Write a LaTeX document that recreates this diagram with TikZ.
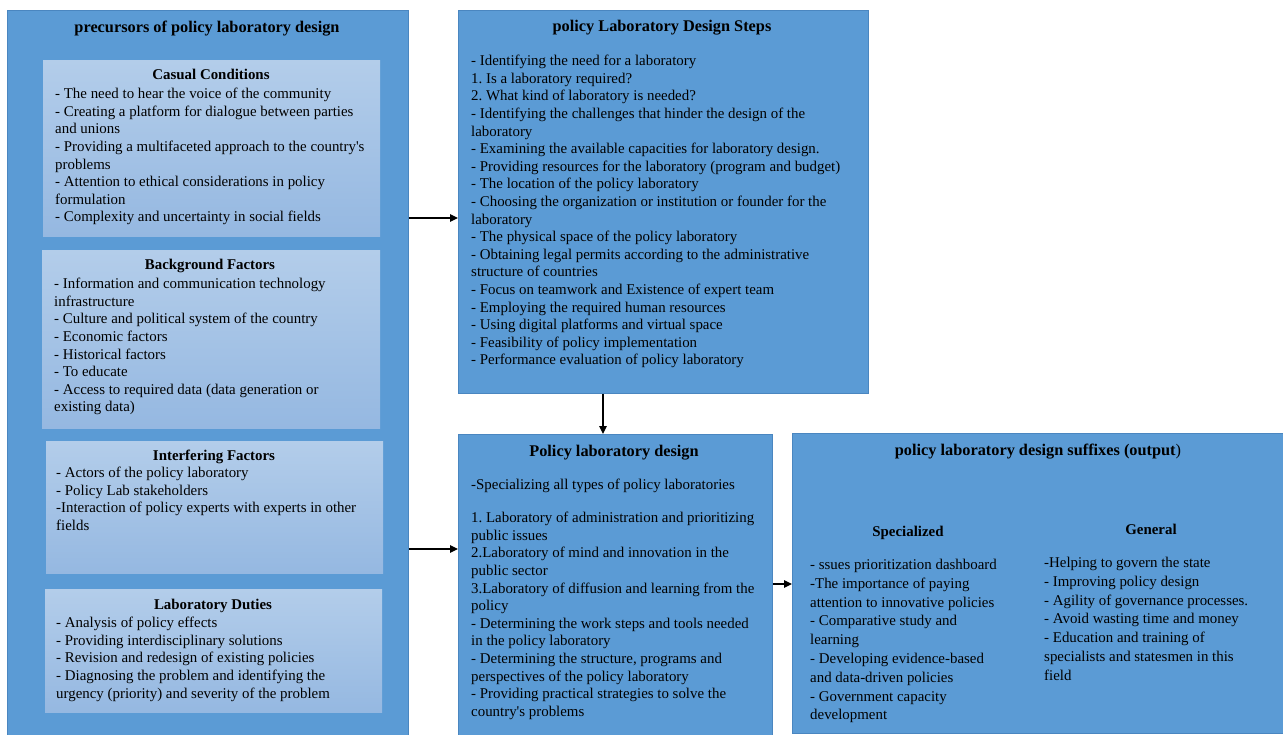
\documentclass[tikz,border=0pt]{standalone}
\usepackage{fontspec}
\setmainfont{Liberation Serif}
\newfontfamily\plainserif{Liberation Serif}
\usetikzlibrary{arrows.meta}
\frenchspacing
\newcommand{\apos}{{\plainserif '}}
\definecolor{mainblue}{HTML}{5B9BD5}
\definecolor{edgeblue}{HTML}{4A86C0}
\definecolor{lighttop}{HTML}{B3CDEA}
\definecolor{lightbot}{HTML}{95B8E1}
\tikzset{
  bigbox/.style={draw=edgeblue, line width=0.8pt, fill=mainblue, anchor=north west, inner sep=0pt},
  subbox/.style={draw=none, top color=lighttop, bottom color=lightbot, anchor=north west, inner sep=0pt},
  ttl/.style={font=\fontsize{16.3}{18}\selectfont\bfseries, anchor=base, inner sep=0pt},
  subttl/.style={font=\fontsize{14.9}{17.6}\selectfont\bfseries, anchor=base, inner sep=0pt},
  body/.style={font=\fontsize{14.9}{17.6}\selectfont\frenchspacing, align=left, anchor=north west, inner sep=0pt},
  bodyo/.style={font=\fontsize{14.9}{18.8}\selectfont\frenchspacing, align=left, anchor=north west, inner sep=0pt},
  arr/.style={-{Triangle[length=8pt,width=7.5pt]}, line width=1.1pt, black}
}
\begin{document}
\begin{tikzpicture}[x=1pt,y=-1pt]
\useasboundingbox (0,0) rectangle (1283,735);
\fill[white] (0,0) rectangle (1283,735);
% main boxes
\node[bigbox, minimum width=401pt, minimum height=726pt] (pre) at (7,10) {};
\node[bigbox, minimum width=410pt, minimum height=383pt] (steps) at (458,10) {};
\node[bigbox, minimum width=314pt, minimum height=302pt] (design) at (458,434) {};
\node[bigbox, minimum width=492pt, minimum height=300pt] (out) at (792,433) {};
% sub boxes
\node[subbox, minimum width=337pt, minimum height=176pt] (cas) at (43,60) {};
\node[subbox, minimum width=338pt, minimum height=178pt] (bg) at (42,250) {};
\node[subbox, minimum width=337pt, minimum height=132pt] (intf) at (46,441) {};
\node[subbox, minimum width=337pt, minimum height=123pt] (duty) at (45,589) {};
% titles
\node[ttl] (tpre) at (207,33) {precursors of policy laboratory design};
\node[ttl] (tsteps) at (662,32) {policy Laboratory Design Steps};
\node[ttl] (tdes) at (614,456) {Policy laboratory design};
\node[ttl] (tout) at (1038,455) {policy laboratory design suffixes (output\textmd{)}};
\node[subttl] (tcas) at (211,80) {Casual Conditions};
\node[subttl] (tbg) at (210,270) {Background Factors};
\node[subttl] (tint) at (214,460) {Interfering Factors};
\node[subttl] (tduty) at (213,609) {Laboratory Duties};
\node[subttl] (tspec) at (908,536) {Specialized};
\node[subttl] (tgen) at (1151,534) {General};
% body texts
\node[body] (bcas) at (55,88) {- The need to hear the voice of the community\\
- Creating a platform for dialogue between parties\\
and unions\\
- Providing a multifaceted approach to the country\apos s\\
problems\\
- Attention to ethical considerations in policy\\
formulation\\
- Complexity and uncertainty in social fields};
\node[body] (bbg) at (54,278) {- Information and communication technology\\
infrastructure\\
- Culture and political system of the country\\
- Economic factors\\
- Historical factors\\
- To educate\\
- Access to required data (data generation or\\
existing data)};
\node[body] (bint) at (56,467) {- Actors of the policy laboratory\\
- Policy Lab stakeholders\\
-Interaction of policy experts with experts in other\\
fields};
\node[body] (bduty) at (56,617) {- Analysis of policy effects\\
- Providing interdisciplinary solutions\\
- Revision and redesign of existing policies\\
- Diagnosing the problem and identifying the\\
urgency (priority) and severity of the problem};
\node[body] (bsteps) at (471,55) {- Identifying the need for a laboratory\\
1. Is a laboratory required?\\
2. What kind of laboratory is needed?\\
- Identifying the challenges that hinder the design of the\\
laboratory\\
- Examining the available capacities for laboratory design.\\
- Providing resources for the laboratory (program and budget)\\
- The location of the policy laboratory\\
- Choosing the organization or institution or founder for the\\
laboratory\\
- The physical space of the policy laboratory\\
- Obtaining legal permits according to the administrative\\
structure of countries\\
- Focus on teamwork and Existence of expert team\\
- Employing the required human resources\\
- Using digital platforms and virtual space\\
- Feasibility of policy implementation\\
- Performance evaluation of policy laboratory};
\node[body] (bdes1) at (471,479) {-Specializing all types of policy laboratories};
\node[body] (bdes2) at (471,512) {1. Laboratory of administration and prioritizing\\
public issues\\
2.Laboratory of mind and innovation in the\\
public sector\\
3.Laboratory of diffusion and learning from the\\
policy\\
- Determining the work steps and tools needed\\
in the policy laboratory\\
- Determining the structure, programs and\\
perspectives of the policy laboratory\\
- Providing practical strategies to solve the\\
country\apos s problems};
\node[bodyo] (bspec) at (810,559) {- ssues prioritization dashboard\\
-The importance of paying\\
attention to innovative policies\\
- Comparative study and\\
learning\\
- Developing evidence-based\\
and data-driven policies\\
- Government capacity\\
development};
\node[bodyo] (bgen) at (1044,557) {-Helping to govern the state\\
- Improving policy design\\
- Agility of governance processes.\\
- Avoid wasting time and money\\
- Education and training of\\
specialists and statesmen in this\\
field};
% connectors
\draw[arr] (pre.east |- 0,218) -- (steps.west |- 0,218);
\draw[arr] (steps.south -| 603,0) -- (design.north -| 603,0);
\draw[arr] (pre.east |- 0,549) -- (design.west |- 0,549);
\draw[arr] (design.east |- 0,584) -- (out.west |- 0,584);
\end{tikzpicture}
\end{document}
